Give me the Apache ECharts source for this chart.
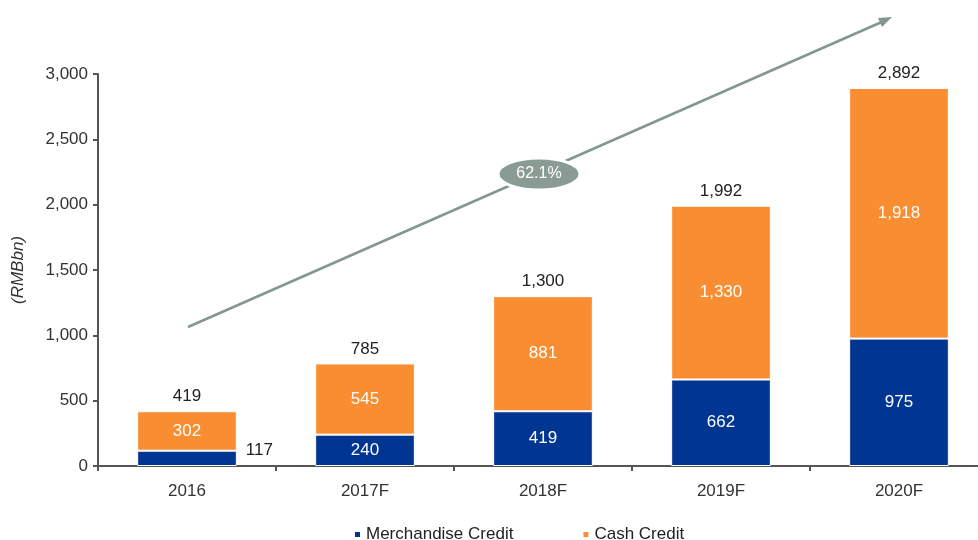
<!DOCTYPE html>
<html>
<head>
<meta charset="utf-8">
<script src="https://cdn.jsdelivr.net/npm/echarts@6/dist/echarts.min.js"></script>
<style>
  html, body { margin: 0; padding: 0; background: #fff; }
  #mychart1 { width: 978px; height: 540px; }
</style>
</head>
<body>
<div id="mychart1"></div>
<script>
// 横坐标
const years = ["2016", "2017F", "2018F", "2019F", "2020F"];
const merchandise = [117, 240, 419, 662, 975];
const cash = [302, 545, 881, 1330, 1918];
const totals = [419, 785, 1300, 1992, 2892];
const cagrText = "62.1%";

const fontFamily = "Liberation Sans, Arial, sans-serif";
const fmt = v => v.toLocaleString("en-US");

const myChart = echarts.init(document.getElementById("mychart1"));

const option = {
  animation: false,
  textStyle: { fontFamily: fontFamily },
  grid: { left: 98, width: 890, top: 74, bottom: 74, outerBoundsMode: "none", containLabel: false },
  legend: {
    data: ["Merchandise Credit", "Cash Credit"],
    bottom: -8,
    left: 348,
    itemWidth: 7,
    itemHeight: 7,
    itemGap: 68,
    icon: "rect",
    textStyle: { fontSize: 17, color: "#222", fontFamily: fontFamily }
  },
  xAxis: {
    type: "category",
    data: years,
    axisLine: { lineStyle: { color: "#555", width: 2 } },
    axisTick: { show: true, length: 5, lineStyle: { color: "#555", width: 2 } },
    axisLabel: { color: "#333", fontSize: 17, margin: 17 }
  },
  yAxis: {
    type: "value",
    min: 0,
    max: 3000,
    interval: 500,
    name: "(RMBbn)",
    nameLocation: "middle",
    nameGap: 71,
    nameTextStyle: { fontStyle: "italic", fontSize: 17, color: "#333" },
    splitLine: { show: false },
    axisLine: { show: true, lineStyle: { color: "#555", width: 2 } },
    axisTick: { show: true, length: 5, lineStyle: { color: "#555", width: 2 } },
    axisLabel: { color: "#333", fontSize: 17, margin: 10, formatter: v => fmt(v) }
  },
  series: [
    {
      name: "Merchandise Credit",
      type: "bar",
      stack: "total",
      barWidth: "56%",
      data: merchandise.map((v, i) => i === 0
        ? { value: v, label: { position: "right", color: "#222", offset: [4, -8] } }
        : v),
      itemStyle: { color: "#003591", borderColor: "#fff", borderWidth: 1 },
      label: {
        show: true,
        position: "inside",
        color: "#fff",
        fontSize: 17,
        formatter: p => fmt(p.value)
      },
      z: 3
    },
    {
      name: "Cash Credit",
      type: "bar",
      stack: "total",
      data: cash,
      itemStyle: { color: "#f98d32", borderColor: "#fff", borderWidth: 1 },
      label: {
        show: true,
        position: "inside",
        color: "#fff",
        fontSize: 17,
        formatter: p => fmt(p.value)
      },
      z: 3
    },
    {
      // 合计标签
      name: "Total",
      type: "bar",
      barGap: "-100%",
      barWidth: "56%",
      data: totals,
      itemStyle: { color: "rgba(0,0,0,0)" },
      label: {
        show: true,
        position: "top",
        distance: 6,
        color: "#222",
        fontSize: 17,
        formatter: p => fmt(p.value)
      },
      silent: true,
      z: 1
    }
  ],
  graphic: [
    {
      type: "line",
      shape: { x1: 188, y1: 327, x2: 884, y2: 21 },
      style: { stroke: "#849690", lineWidth: 2.5 },
      z: 10
    },
    {
      type: "polygon",
      shape: { points: [[892, 17], [878, 18], [882, 27]] },
      style: { fill: "#849690" },
      z: 10
    },
    {
      type: "ellipse",
      shape: { cx: 539, cy: 174, rx: 41, ry: 16 },
      style: { fill: "#8a9b94", stroke: "#fff", lineWidth: 3 },
      z: 11
    },
    {
      type: "text",
      x: 539,
      y: 174,
      style: {
        text: cagrText,
        fill: "#fff",
        fontSize: 16,
        fontFamily: fontFamily,
        align: "center",
        verticalAlign: "middle"
      },
      z: 12
    }
  ]
};

myChart.setOption(option);
window.addEventListener("resize", () => {
  myChart.resize();
});
</script>
</body>
</html>
